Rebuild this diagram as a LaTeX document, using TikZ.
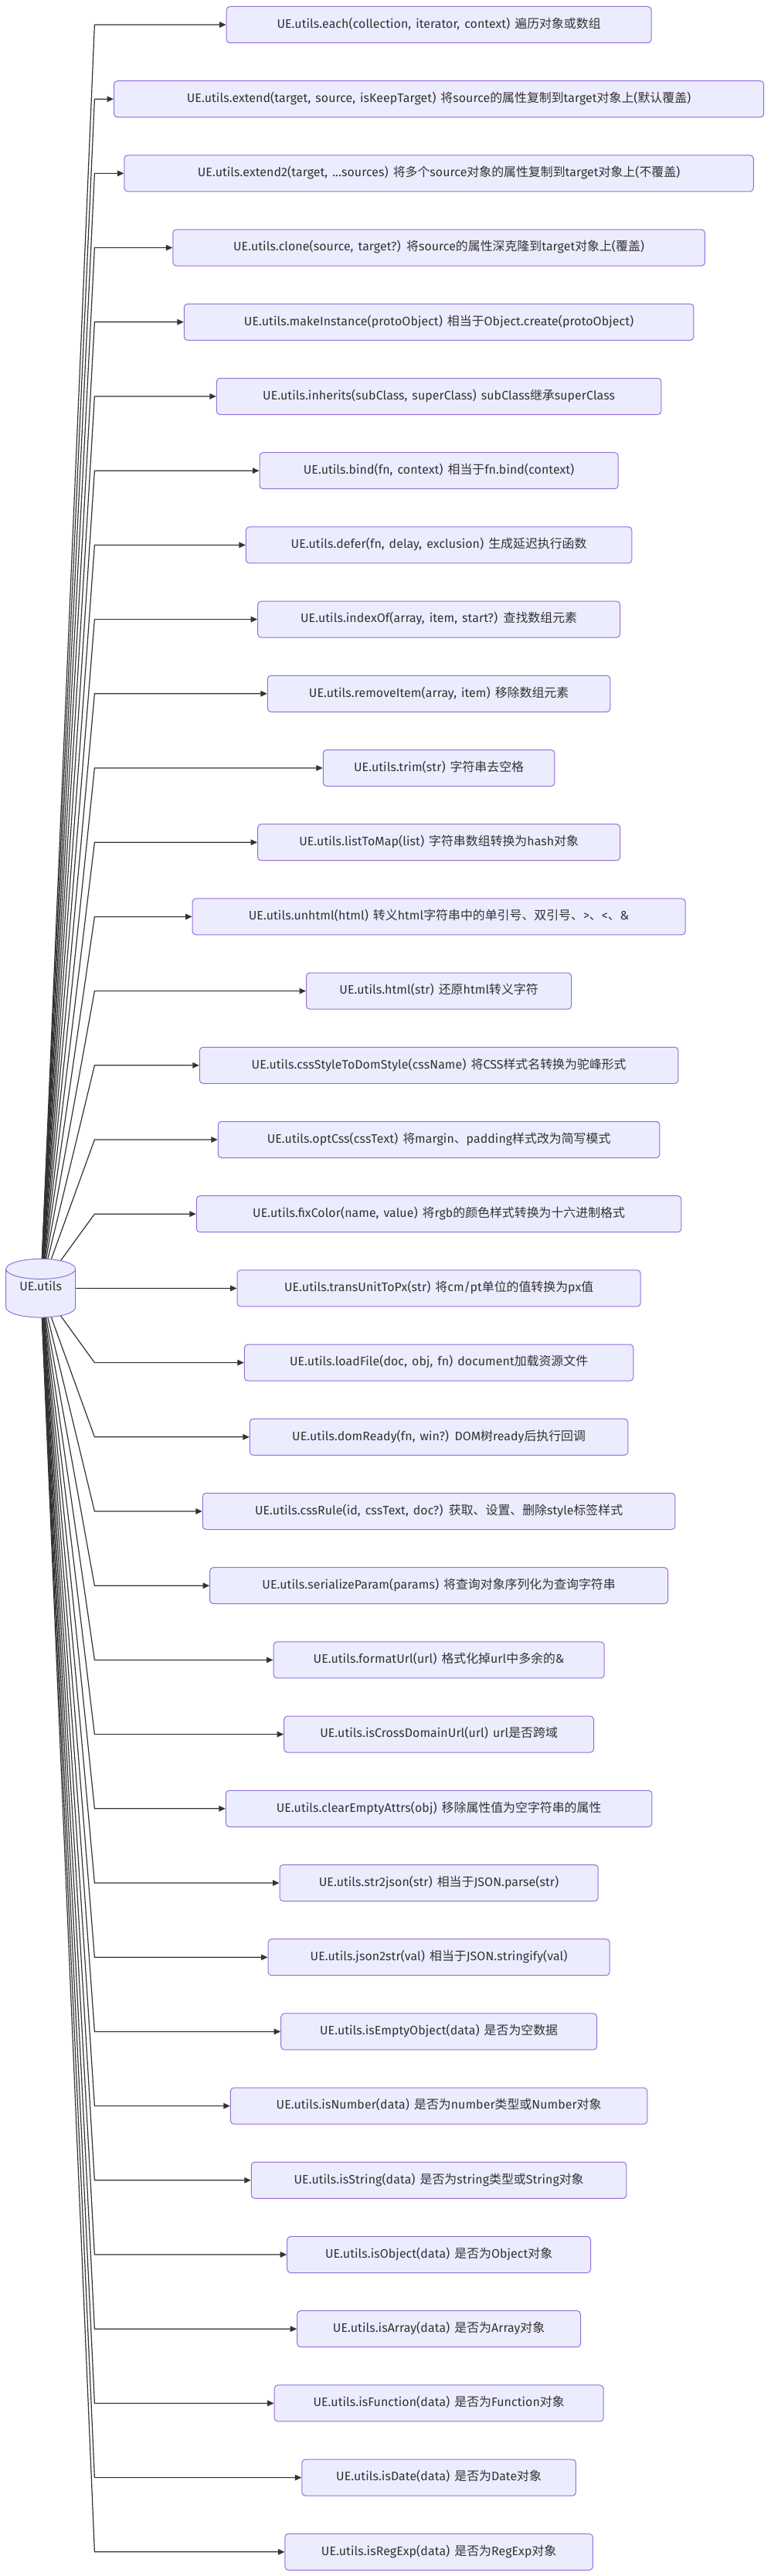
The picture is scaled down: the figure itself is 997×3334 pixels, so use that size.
\documentclass[tikz,border=0pt]{standalone}
\usepackage{fontspec}
\setmainfont[WordSpace=1.4,LetterSpace=0.5]{Fira Sans}
\newfontfamily\cjk[Scale=1.0]{Noto Sans CJK SC}
\usetikzlibrary{arrows.meta,shapes.geometric}
\definecolor{boxfill}{HTML}{ECECFF}
\definecolor{boxline}{HTML}{9370DB}
\definecolor{ink}{HTML}{333333}
\pgfdeclarelayer{edges}
\pgfsetlayers{edges,main}
\newcommand\C[1]{{\cjk #1}}
\newcommand\rowbox[3]{%
  \pgfmathsetmacro\yy{32+96.2*#1}%
  \pgfmathsetmacro\ww{2*(568.1-#2)}%
  \node[funcbox,minimum width=\ww pt] (n#1) at (568.1,\yy) {#3};
  \coordinate (j#1) at (122.4,\yy);
  \begin{pgfonlayer}{edges}
  \draw[edge] (root.shape center) -- (j#1) -- (n#1);
  \end{pgfonlayer}
}
\tikzset{
  funcbox/.style={draw=boxline,fill=boxfill,line width=1pt,rounded corners=4.5pt,
    minimum height=47pt,inner sep=0pt,text=ink,font=\fontsize{15.9pt}{18pt}\selectfont,
    text height=13pt,text depth=4.4pt},
  rootnode/.style={cylinder,shape border rotate=90,aspect=0.475,draw=boxline,line width=1pt,
    cylinder uses custom fill,cylinder body fill=boxfill,cylinder end fill=boxfill,
    minimum width=90pt,minimum height=75.7pt,inner sep=0pt,text=ink,font=\fontsize{15.9pt}{18pt}\selectfont},
  edge/.style={draw=ink,line width=1.2pt,-{Triangle[length=8.5pt,width=7.5pt]}}
}
\begin{document}
\begin{tikzpicture}[x=1pt,y=-1pt]
\useasboundingbox (0,0) rectangle (997,3334);
\begin{pgfonlayer}{edges}
\fill[white] (0,0) rectangle (997,3334);
\end{pgfonlayer}
\node[rootnode,anchor=shape center] (root) at (52.7,1667.2) {\raisebox{3pt}[0pt][0pt]{UE.utils}};
\rowbox{0}{293.1}{UE.utils.each(collection, iterator, context) \C{遍历对象或数组}}
\rowbox{1}{147.5}{UE.utils.extend(target, source, isKeepTarget) \C{将}source\C{的属性复制到}target\C{对象上}(\C{默认覆盖})}
\rowbox{2}{160.9}{UE.utils.extend2(target, ...sources) \C{将多个}source\C{对象的属性复制到}target\C{对象上}(\C{不覆盖})}
\rowbox{3}{223.8}{UE.utils.clone(source, target?) \C{将}source\C{的属性深克隆到}target\C{对象上}(\C{覆盖})}
\rowbox{4}{238.3}{UE.utils.makeInstance(protoObject) \C{相当于}Object.create(protoObject)}
\rowbox{5}{280.3}{UE.utils.inherits(subClass, superClass) subClass\C{继承}superClass}
\rowbox{6}{336}{UE.utils.bind(fn, context) \C{相当于}fn.bind(context)}
\rowbox{7}{318.3}{UE.utils.defer(fn, delay, exclusion) \C{生成延迟执行函数}}
\rowbox{8}{333.7}{UE.utils.indexOf(array, item, start?) \C{查找数组元素}}
\rowbox{9}{346.3}{UE.utils.removeItem(array, item) \C{移除数组元素}}
\rowbox{10}{418.3}{UE.utils.trim(str) \C{字符串去空格}}
\rowbox{11}{333.6}{UE.utils.listToMap(list) \C{字符串数组转换为}hash\C{对象}}
\rowbox{12}{249.1}{UE.utils.unhtml(html) \C{转义}html\C{字符串中的单引号、双引号、}>\C{、}<\C{、}\&}
\rowbox{13}{396.5}{UE.utils.html(str) \C{还原}html\C{转义字符}}
\rowbox{14}{258.3}{UE.utils.cssStyleToDomStyle(cssName) \C{将}CSS\C{样式名转换为驼峰形式}}
\rowbox{15}{282.3}{UE.utils.optCss(cssText) \C{将}margin\C{、}padding\C{样式改为简写模式}}
\rowbox{16}{254.3}{UE.utils.fixColor(name, value) \C{将}rgb\C{的颜色样式转换为十六进制格式}}
\rowbox{17}{307}{UE.utils.transUnitToPx(str) \C{将}cm/pt\C{单位的值转换为}px\C{值}}
\rowbox{18}{316.3}{UE.utils.loadFile(doc, obj, fn) document\C{加载资源文件}}
\rowbox{19}{323.3}{UE.utils.domReady(fn, win?) DOM\C{树}ready\C{后执行回调}}
\rowbox{20}{262.3}{UE.utils.cssRule(id, cssText, doc?) \C{获取、设置、删除}style\C{标签样式}}
\rowbox{21}{271.7}{UE.utils.serializeParam(params) \C{将查询对象序列化为查询字符串}}
\rowbox{22}{354}{UE.utils.formatUrl(url) \C{格式化掉}url\C{中多余的}\&}
\rowbox{23}{367.7}{UE.utils.isCrossDomainUrl(url) url\C{是否跨域}}
\rowbox{24}{292.3}{UE.utils.clearEmptyAttrs(obj) \C{移除属性值为空字符串的属性}}
\rowbox{25}{362}{UE.utils.str2json(str) \C{相当于}JSON.parse(str)}
\rowbox{26}{347}{UE.utils.json2str(val) \C{相当于}JSON.stringify(val)}
\rowbox{27}{363.7}{UE.utils.isEmptyObject(data) \C{是否为空数据}}
\rowbox{28}{298.3}{UE.utils.isNumber(data) \C{是否为}number\C{类型或}Number\C{对象}}
\rowbox{29}{325.3}{UE.utils.isString(data) \C{是否为}string\C{类型或}String\C{对象}}
\rowbox{30}{371.7}{UE.utils.isObject(data) \C{是否为}Object\C{对象}}
\rowbox{31}{384.7}{UE.utils.isArray(data) \C{是否为}Array\C{对象}}
\rowbox{32}{355.1}{UE.utils.isFunction(data) \C{是否为}Function\C{对象}}
\rowbox{33}{390.8}{UE.utils.isDate(data) \C{是否为}Date\C{对象}}
\rowbox{34}{368.9}{UE.utils.isRegExp(data) \C{是否为}RegExp\C{对象}}
\end{tikzpicture}
\end{document}
